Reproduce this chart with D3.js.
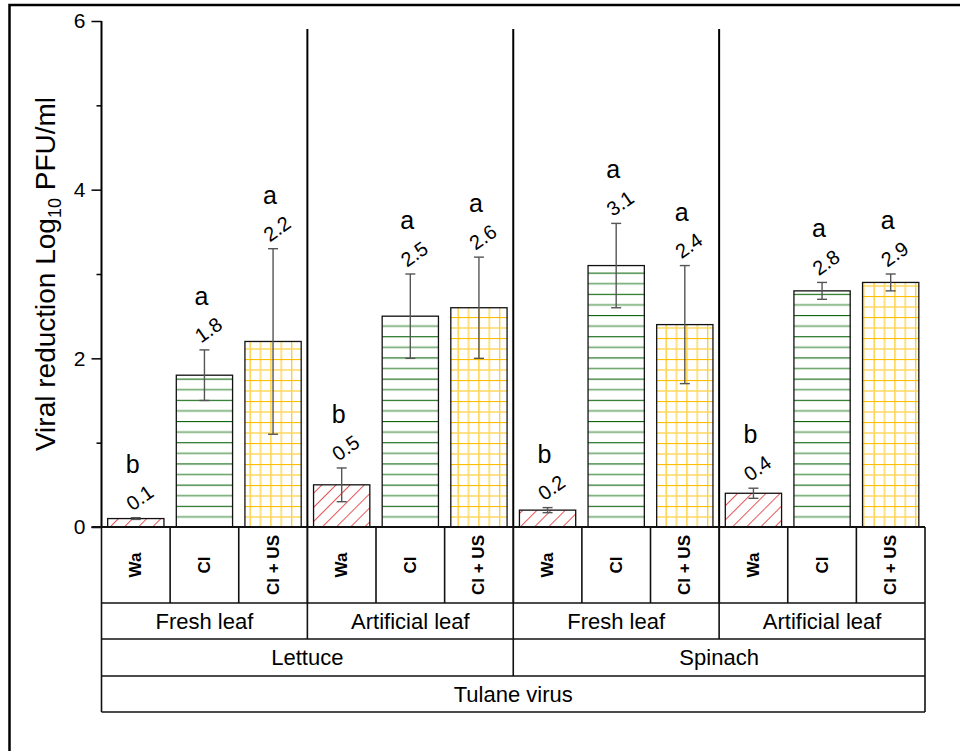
<!DOCTYPE html>
<html>
<head>
<meta charset="utf-8">
<script src="https://cdn.jsdelivr.net/npm/d3@7"></script>
<style>
  html, body { margin: 0; padding: 0; background: #fff; }
  svg { display: block; font-family: "Liberation Sans", Arial, sans-serif; }
</style>
</head>
<body>
<svg id="chart" width="960" height="751"></svg>
<script>
// Treatment structure (innermost level first)
const treatments = ["Wa", "Cl", "Cl + US"];
const surfaces = ["Fresh leaf", "Artificial leaf"];
const produce = ["Lettuce", "Spinach"];
const virusName = "Tulane virus";

// Mean viral reduction (log10 PFU/ml) per bar, in column order
const means = [0.1, 1.8, 2.2, 0.5, 2.5, 2.6, 0.2, 3.1, 2.4, 0.4, 2.8, 2.9];
// Standard deviation per bar
const errors = [0.01, 0.3, 1.1, 0.2, 0.5, 0.6, 0.03, 0.5, 0.7, 0.06, 0.1, 0.1];
// Significance letters per bar
const letters = ["b", "a", "a", "b", "a", "a", "b", "a", "a", "b", "a", "a"];

const yMajorTicks = [0, 2, 4, 6];
const yMinorTicks = [1, 3, 5];

const svg = d3.select("#chart");

// frame around the figure
svg.append("rect")
  .attr("x", 9.5).attr("y", 5)
  .attr("width", 980).attr("height", 780)
  .attr("fill", "none").attr("stroke", "#000").attr("stroke-width", 2.5);

const plotLeft = 101.5, plotRight = 925, plotTop = 21, plotBottom = 527;
const rowBottoms = [603, 639, 676, 712];

// one column per bar
const columns = d3.range(means.length);
const colScale = d3.scaleBand().domain(columns).range([plotLeft, plotRight]).padding(0);
const barScale = d3.scaleBand().domain(columns).range([plotLeft, plotRight])
  .paddingInner(0.18).paddingOuter(0.09);
const y = d3.scaleLinear().domain([0, 6]).range([plotBottom, plotTop]);

// patterns
const defs = svg.append("defs");
const hatch = defs.append("pattern").attr("id", "p-wa")
  .attr("patternUnits", "userSpaceOnUse").attr("width", 10).attr("height", 10)
  .attr("patternTransform", "rotate(45)");
hatch.append("rect").attr("width", 10).attr("height", 10).attr("fill", "#fff");
hatch.append("line").attr("x1", 0).attr("y1", 0).attr("x2", 0).attr("y2", 10)
  .attr("stroke", "#e0282a").attr("stroke-width", 1.6);

const stripes = defs.append("pattern").attr("id", "p-cl")
  .attr("patternUnits", "userSpaceOnUse").attr("width", 10).attr("height", 21.2)
  .attr("y", plotBottom);
stripes.append("rect").attr("width", 10).attr("height", 21.2).attr("fill", "#fff");
stripes.append("line").attr("x1", 0).attr("x2", 10).attr("y1", 0.5).attr("y2", 0.5)
  .attr("stroke", "#0a640a").attr("stroke-width", 1.2);
stripes.append("line").attr("x1", 0).attr("x2", 10).attr("y1", 11.1).attr("y2", 11.1)
  .attr("stroke", "#6fa86f").attr("stroke-width", 1.6);

const grid = defs.append("pattern").attr("id", "p-clus")
  .attr("patternUnits", "userSpaceOnUse").attr("width", 20.8).attr("height", 21)
  .attr("y", plotBottom);
grid.append("rect").attr("width", 20.8).attr("height", 21).attr("fill", "#fff");
grid.append("line").attr("x1", 0.5).attr("x2", 0.5).attr("y1", 0).attr("y2", 21)
  .attr("stroke", "#ffbf00").attr("stroke-width", 1.2);
grid.append("line").attr("x1", 10.9).attr("x2", 10.9).attr("y1", 0).attr("y2", 21)
  .attr("stroke", "#ffd760").attr("stroke-width", 1.5);
grid.append("line").attr("x1", 0).attr("x2", 20.8).attr("y1", 0.5).attr("y2", 0.5)
  .attr("stroke", "#ffbf00").attr("stroke-width", 1.2);
grid.append("line").attr("x1", 0).attr("x2", 20.8).attr("y1", 11).attr("y2", 11)
  .attr("stroke", "#ffd760").attr("stroke-width", 1.5);

const fills = ["url(#p-wa)", "url(#p-cl)", "url(#p-clus)"];

// bars
svg.append("g").selectAll("rect").data(columns).join("rect")
  .attr("x", i => barScale(i))
  .attr("y", i => y(means[i]))
  .attr("width", barScale.bandwidth())
  .attr("height", i => y(0) - y(means[i]))
  .attr("fill", i => fills[i % 3])
  .attr("stroke", "#111").attr("stroke-width", 1.3);

// error bars
const eb = svg.append("g").attr("stroke", "#555").attr("stroke-width", 1.4);
columns.forEach(i => {
  const cx = barScale(i) + barScale.bandwidth() / 2;
  const y1 = y(means[i] + errors[i]), y2 = y(means[i] - errors[i]);
  eb.append("line").attr("x1", cx).attr("x2", cx).attr("y1", y1).attr("y2", y2);
  [y1, y2].forEach(yy => eb.append("line")
    .attr("x1", cx - 5).attr("x2", cx + 5).attr("y1", yy).attr("y2", yy));
});

// value labels and significance letters
columns.forEach(i => {
  const cx = barScale(i) + barScale.bandwidth() / 2;
  const yTop = y(means[i] + errors[i]);
  const ly = yTop - 20;
  svg.append("text")
    .attr("transform", `translate(${cx + 4},${ly}) rotate(-35)`)
    .attr("text-anchor", "middle").attr("dominant-baseline", "central")
    .attr("font-size", 20).attr("fill", "#000")
    .text(d3.format(".1f")(means[i]));
  svg.append("text")
    .attr("x", cx - 3).attr("y", ly - 34)
    .attr("text-anchor", "middle").attr("dominant-baseline", "central")
    .attr("font-size", 25).attr("fill", "#000")
    .text(letters[i]);
});

// group separators inside the plot
const sepLines = svg.append("g").attr("stroke", "#000").attr("stroke-width", 2);
[3, 6, 9].forEach(i => sepLines.append("line")
  .attr("x1", colScale(i)).attr("x2", colScale(i))
  .attr("y1", 29).attr("y2", plotBottom));

// y axis
const yAxis = d3.axisLeft(y).tickValues(yMajorTicks).tickSize(10).tickPadding(6)
  .tickFormat(d3.format("d"));
const ya = svg.append("g").attr("transform", `translate(${plotLeft},0)`).call(yAxis);
ya.select(".domain").attr("stroke-width", 2).attr("d", `M0,${plotTop}V${plotBottom}`);
ya.selectAll(".tick line").attr("stroke-width", 1.5);
ya.selectAll(".tick text").attr("font-size", 21).attr("font-family", "Liberation Sans, Arial, sans-serif").attr("fill", "#000");
const yMinor = d3.axisLeft(y).tickValues(yMinorTicks).tickSize(5).tickFormat("");
const ym = svg.append("g").attr("transform", `translate(${plotLeft},0)`).call(yMinor);
ym.select(".domain").remove();
ym.selectAll(".tick line").attr("stroke-width", 1.5);

// y axis title
const title = svg.append("text")
  .attr("transform", `translate(55,${(plotTop + plotBottom) / 2}) rotate(-90)`)
  .attr("text-anchor", "middle").attr("font-size", 28).attr("fill", "#000");
title.append("tspan").text("Viral reduction Log");
title.append("tspan").attr("font-size", 18).attr("dy", 6).text("10");
title.append("tspan").attr("dy", -6).text(" PFU/ml");

// category table below the plot
const table = svg.append("g").attr("stroke", "#111").attr("stroke-width", 1.6).attr("fill", "none");
// baseline (x axis)
table.append("line").attr("x1", plotLeft - 10).attr("x2", plotRight).attr("y1", plotBottom).attr("y2", plotBottom)
  .attr("stroke-width", 2.2);
// horizontal rules
rowBottoms.forEach(ry => table.append("line")
  .attr("x1", plotLeft).attr("x2", plotRight).attr("y1", ry).attr("y2", ry));
// outer verticals
[plotLeft, plotRight].forEach(x => table.append("line")
  .attr("x1", x).attr("x2", x).attr("y1", plotBottom).attr("y2", rowBottoms[3]));
// level 1 dividers (treatments)
columns.slice(1).forEach(i => table.append("line")
  .attr("x1", colScale(i)).attr("x2", colScale(i))
  .attr("y1", plotBottom).attr("y2", rowBottoms[0])
  .attr("stroke-width", i % 3 === 0 ? 2 : 1.6));
// level 2 dividers (surfaces)
[3, 6, 9].forEach(i => table.append("line")
  .attr("x1", colScale(i)).attr("x2", colScale(i))
  .attr("y1", rowBottoms[0]).attr("y2", rowBottoms[1]));
// level 3 divider (produce)
table.append("line")
  .attr("x1", colScale(6)).attr("x2", colScale(6))
  .attr("y1", rowBottoms[1]).attr("y2", rowBottoms[2]);

const step = colScale.step();
// treatment labels
columns.forEach(i => {
  svg.append("text")
    .attr("transform", `translate(${colScale(i) + step / 2},${(plotBottom + rowBottoms[0]) / 2}) rotate(-90)`)
    .attr("text-anchor", "middle").attr("dominant-baseline", "central")
    .attr("font-size", 17).attr("font-weight", "bold").attr("fill", "#000")
    .text(treatments[i % 3]);
});
// surface labels
d3.range(4).forEach(g => {
  svg.append("text")
    .attr("x", colScale(g * 3) + step * 1.5).attr("y", (rowBottoms[0] + rowBottoms[1]) / 2)
    .attr("text-anchor", "middle").attr("dominant-baseline", "central")
    .attr("font-size", 22).attr("fill", "#000")
    .text(surfaces[g % 2]);
});
// produce labels
d3.range(2).forEach(g => {
  svg.append("text")
    .attr("x", colScale(g * 6) + step * 3).attr("y", (rowBottoms[1] + rowBottoms[2]) / 2)
    .attr("text-anchor", "middle").attr("dominant-baseline", "central")
    .attr("font-size", 22).attr("fill", "#000")
    .text(produce[g]);
});
// virus label
svg.append("text")
  .attr("x", (plotLeft + plotRight) / 2).attr("y", (rowBottoms[2] + rowBottoms[3]) / 2)
  .attr("text-anchor", "middle").attr("dominant-baseline", "central")
  .attr("font-size", 22).attr("fill", "#000")
  .text(virusName);
</script>
</body>
</html>
